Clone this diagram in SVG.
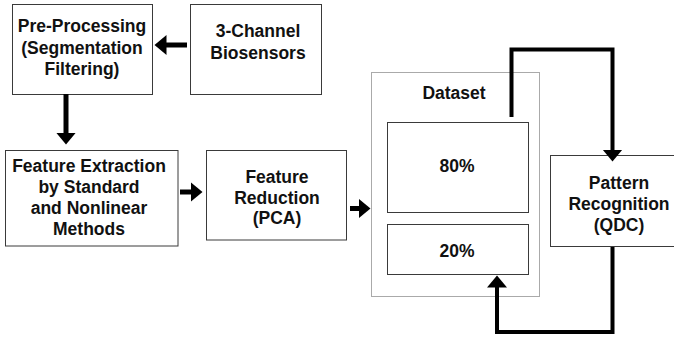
<svg xmlns="http://www.w3.org/2000/svg" width="674" height="338" viewBox="0 0 674 338">
  <style>
    .box { fill: #ffffff; stroke: #3a3a3a; stroke-width: 1; }
    .group { fill: none; stroke: #555555; stroke-width: 1; stroke-dasharray: 1 1; }
    .label { font-family: "Liberation Sans", Arial, sans-serif; font-weight: bold; font-size: 17.5px; fill: #111111; text-anchor: middle; }
    .link { fill: none; stroke: #000000; stroke-linejoin: miter; stroke-linecap: butt; }
    .short { stroke-width: 5; }
    .long { stroke-width: 4; }
  </style>
  <defs>
    <marker id="head" markerUnits="userSpaceOnUse" markerWidth="14" markerHeight="22" viewBox="0 -11 14 22" refX="0.5" refY="0" orient="auto">
      <path d="M0,-10 L12,0 L0,10 Z" fill="#000000"/>
    </marker>
  </defs>

  <rect id="background" x="0" y="0" width="674" height="338" fill="#ffffff"/>

  <!-- dataset container -->
  <g id="dataset">
    <rect class="group" x="371.5" y="72.5" width="168" height="224"/>
    <text class="label" x="454" y="99">Dataset</text>
  </g>

  <g id="preprocessing">
    <rect class="box" x="12.5" y="4.5" width="140" height="90"/>
    <text class="label" x="82" y="32">Pre-Processing</text>
    <text class="label" x="82" y="53.5">(Segmentation</text>
    <text class="label" x="82" y="75">Filtering)</text>
  </g>

  <g id="biosensors">
    <rect class="box" x="190.5" y="4.5" width="131" height="90"/>
    <text class="label" x="258" y="37">3-Channel</text>
    <text class="label" x="258" y="58.5">Biosensors</text>
  </g>

  <g id="feature-extraction">
    <rect class="box" x="5.5" y="150.5" width="172.5" height="95.5"/>
    <text class="label" x="89" y="172">Feature Extraction</text>
    <text class="label" x="89" y="193">by Standard</text>
    <text class="label" x="89" y="214">and Nonlinear</text>
    <text class="label" x="89" y="235">Methods</text>
  </g>

  <g id="feature-reduction">
    <rect class="box" x="206.5" y="150.5" width="140" height="89.5"/>
    <text class="label" x="277" y="183">Feature</text>
    <text class="label" x="277" y="203.5">Reduction</text>
    <text class="label" x="277" y="224">(PCA)</text>
  </g>

  <g id="training-set">
    <rect class="box" x="387.5" y="122.5" width="141" height="90"/>
    <text class="label" x="457" y="172">80%</text>
  </g>

  <g id="test-set">
    <rect class="box" x="387.5" y="224.5" width="141" height="50"/>
    <text class="label" x="457" y="257">20%</text>
  </g>

  <g id="pattern-recognition">
    <rect class="box" x="550.5" y="155.5" width="140" height="91"/>
    <text class="label" x="619" y="189">Pattern</text>
    <text class="label" x="619" y="210">Recognition</text>
    <text class="label" x="619" y="231">(QDC)</text>
  </g>

  <!-- connectors -->
  <g id="connectors">
    <path class="link short" d="M187,45 H166" marker-end="url(#head)"/>
    <path class="link short" d="M66,94 V133" marker-end="url(#head)"/>
    <path class="link short" d="M180,192 H191" marker-end="url(#head)"/>
    <path class="link short" d="M350,208.5 H359" marker-end="url(#head)"/>
    <path class="link long" d="M511.5,117 V49.5 H612.5 V150" marker-end="url(#head)"/>
    <path class="link long" d="M612.5,247 V332 H497 V287" marker-end="url(#head)"/>
  </g>
</svg>
